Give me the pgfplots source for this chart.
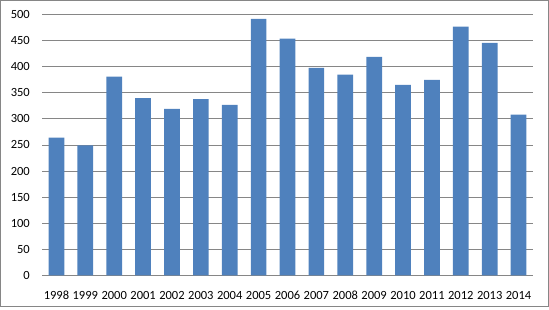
\documentclass[border=0pt]{standalone}
\usepackage{fontspec}
\setmainfont{Carlito}
\usepackage{pgfplots}
\pgfplotsset{compat=1.18}
\definecolor{barblue}{HTML}{4F81BD}
\definecolor{gridgray}{HTML}{868686}
\begin{document}
\begin{tikzpicture}
\useasboundingbox (0,0) rectangle (549bp,310bp);
\draw[gridgray, line width=1bp] (0.5bp,3.5bp) rectangle (548bp,309.5bp);
\begin{axis}[
  at={(42bp,34.7bp)}, anchor=south west,
  scale only axis,
  width=491bp, height=260.7bp,
  xmin=-0.5, xmax=16.5,
  ymin=0, ymax=500,
  ytick={0,50,...,500},
  xtick=data,
  xticklabels={1998,1999,2000,2001,2002,2003,2004,2005,2006,2007,2008,2009,2010,2011,2012,2013,2014},
  ybar, bar width=15.7bp,
  axis line style={draw=none},
  tick style={draw=none},
  ymajorgrids,
  major grid style={gridgray, line width=0.9bp},
  ticklabel style={font=\fontsize{12.5bp}{14bp}\selectfont, inner sep=0pt},
  yticklabel style={anchor=east, xshift=-12bp},
  xticklabel style={anchor=north, yshift=-11.5bp},
  /pgf/number format/assume math mode=true,
  clip=false,
]
\addplot[fill=barblue, draw=none] coordinates {
(0,264) (1,249) (2,381) (3,340) (4,319) (5,338) (6,327) (7,492)
(8,454) (9,398) (10,385) (11,419) (12,365) (13,375) (14,477) (15,446) (16,308)};
\end{axis}
\end{tikzpicture}
\end{document}
